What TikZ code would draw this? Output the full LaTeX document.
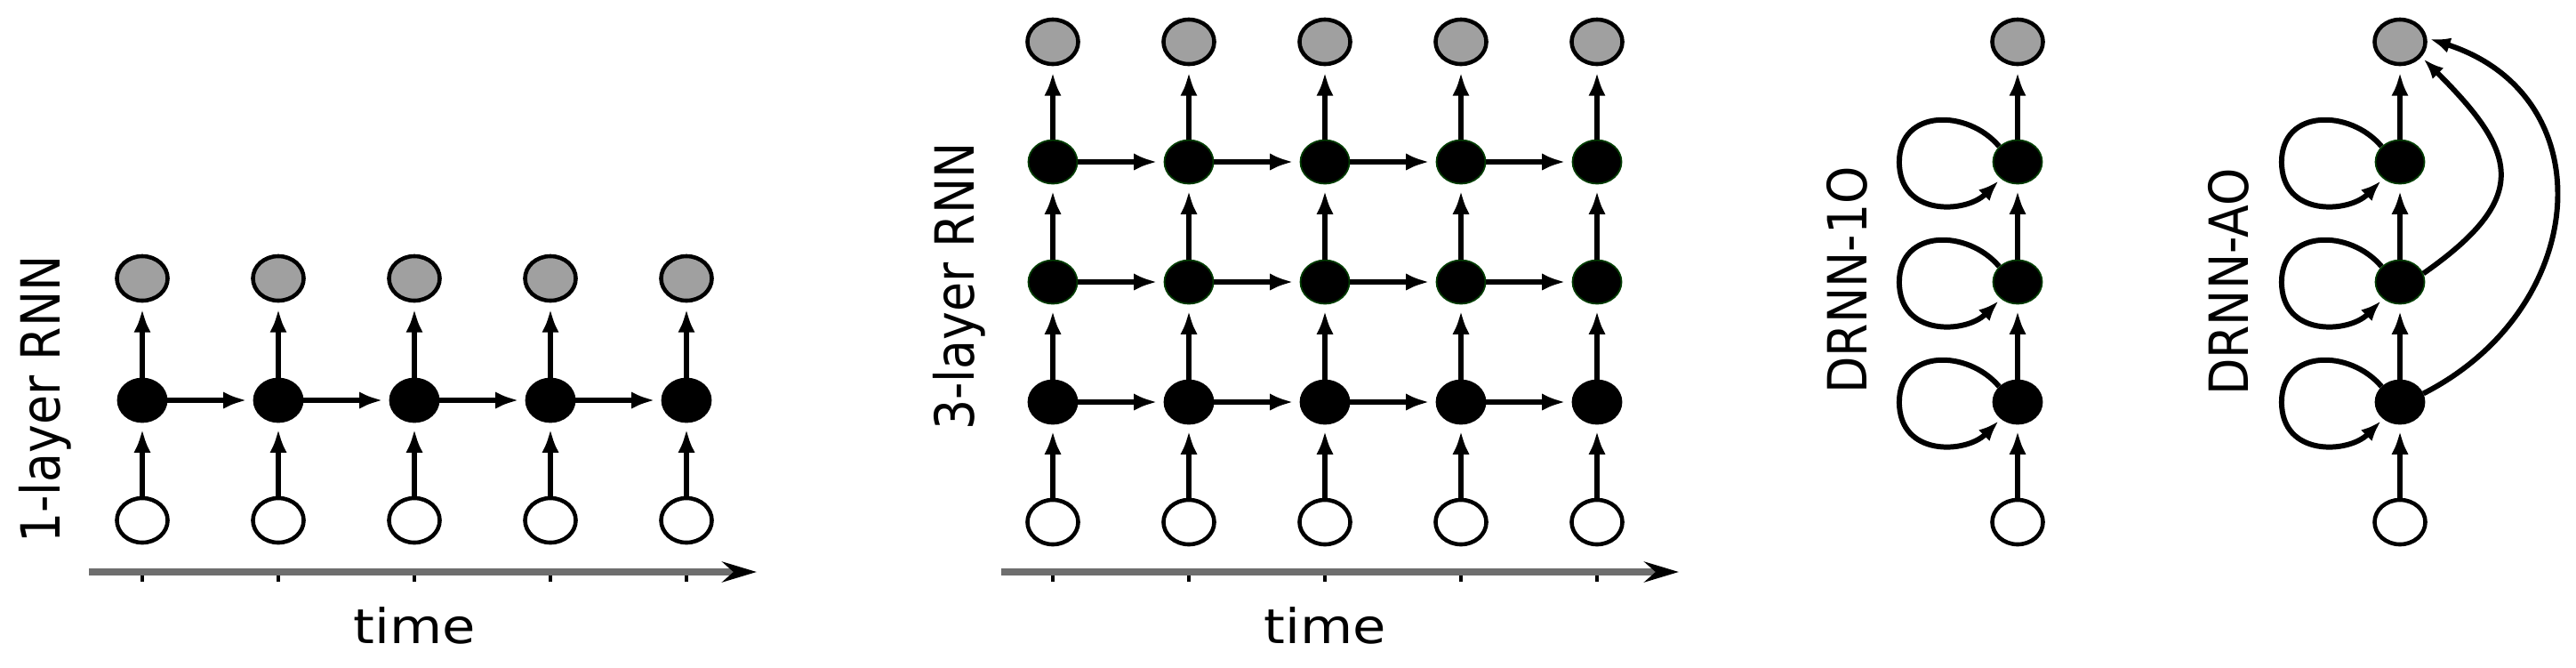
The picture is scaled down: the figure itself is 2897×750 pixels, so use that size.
\documentclass[tikz,border=0pt]{standalone}
\usepackage{graphicx}
\usepackage{fontspec}
\setmainfont{DejaVu Sans}
\usepackage{tikz}
\usetikzlibrary{arrows.meta,shapes.geometric}
\definecolor{outgray}{RGB}{160,160,160}
\definecolor{axisgray}{RGB}{110,110,110}
\definecolor{hidgreen}{RGB}{0,60,0}
\tikzset{
  innode/.style={ellipse, draw=black, fill=white, line width=1.3pt, minimum width=0.57cm, minimum height=0.50cm, inner sep=0pt},
  outnode/.style={innode, fill=outgray},
  hidnode/.style={ellipse, draw=black, fill=black, line width=0.5pt, minimum width=0.55cm, minimum height=0.49cm, inner sep=0pt},
  hidtop/.style={hidnode, draw=hidgreen},
  conn/.style={line width=1.9pt, -{Latex[length=7.5pt,width=5.5pt]}, shorten >=2pt},
  selfloop/.style={line width=1.7pt, -{Latex[length=6.5pt,width=5pt]}, shorten >=1pt},
  timeaxis/.style={axisgray, line width=2pt, -{Stealth[length=11pt,width=6.5pt,black]}},
  axistick/.style={black, line width=0.9pt},
  panellabel/.style={rotate=90, anchor=base, font=\fontsize{15.3}{18}\selectfont},
  timelabel/.style={anchor=base, font=\fontsize{15.3}{18}\selectfont}
}

\begin{document}
\begin{tikzpicture}[x=0.01cm, y=0.01cm]
  \useasboundingbox (0,0) rectangle (2897,750);

  % 1-layer RNN
  \foreach \i in {1,...,5} {
    \pgfmathsetmacro{\x}{160+153*(\i-1)}
    \node[innode] (sin\i) at (\x,165) {};
    \node[hidnode] (sh\i) at (\x,300) {};
    \node[outnode] (sout\i) at (\x,437) {};
    \draw[conn] (sin\i) -- (sh\i);
    \draw[conn] (sh\i) -- (sout\i);
    \draw[axistick] (\x,104) -- (\x,96);
  }
  \foreach \i [evaluate=\i as \j using int(\i+1)] in {1,...,4}
    \draw[conn] (sh\i) -- (sh\j);
  \coordinate (sstart) at (100,107);
  \coordinate (send) at (851,107);
  \draw[timeaxis] (sstart) -- (send);
  \node[panellabel] (slabel) at (68,301) {\scalebox{1}[1.13]{1-layer RNN}};
  \node[timelabel] (stime) at (466,27) {\scalebox{1.13}[1]{time}};

  % 3-layer RNN
  \foreach \i in {1,...,5} {
    \pgfmathsetmacro{\x}{1184+153*(\i-1)}
    \node[innode] (din\i) at (\x,163) {};
    \node[hidnode] (da\i) at (\x,298) {};
    \node[hidtop] (db\i) at (\x,433) {};
    \node[hidtop] (dc\i) at (\x,568) {};
    \node[outnode] (dout\i) at (\x,703) {};
    \draw[conn] (din\i) -- (da\i);
    \draw[conn] (da\i) -- (db\i);
    \draw[conn] (db\i) -- (dc\i);
    \draw[conn] (dc\i) -- (dout\i);
    \draw[axistick] (\x,104) -- (\x,96);
  }
  \foreach \i [evaluate=\i as \j using int(\i+1)] in {1,...,4} {
    \draw[conn] (da\i) -- (da\j);
    \draw[conn] (db\i) -- (db\j);
    \draw[conn] (dc\i) -- (dc\j);
  }
  \coordinate (dstart) at (1126,107);
  \coordinate (dend) at (1888,107);
  \draw[timeaxis] (dstart) -- (dend);
  \node[panellabel] (dlabel) at (1095,428) {\scalebox{1}[1.13]{3-layer RNN}};
  \node[timelabel] (dtime) at (1490,27) {\scalebox{1.13}[1]{time}};

  % DRNN-1O
  \node[innode] (oin) at (2269,163) {};
  \node[hidnode] (oa) at (2269,298) {};
  \node[hidtop] (ob) at (2269,433) {};
  \node[hidtop] (oc) at (2269,568) {};
  \node[outnode] (oout) at (2269,703) {};
  \draw[conn] (oin) -- (oa);
  \draw[conn] (oa) -- (ob);
  \draw[conn] (ob) -- (oc);
  \draw[conn] (oc) -- (oout);
  \foreach \n in {oa,ob,oc}
    \draw[selfloop] (\n.140) .. controls +(130:55) and +(90:60) .. ([xshift=-1.33cm]\n.center)
      .. controls +(270:62) and +(225:55) .. (\n.225);
  \node[panellabel] (olabel) at (2099,435) {\scalebox{1}[1.13]{DRNN-1O}};

  % DRNN-AO
  \node[innode] (ain) at (2699,163) {};
  \node[hidnode] (aa) at (2699,298) {};
  \node[hidtop] (ab) at (2699,433) {};
  \node[hidtop] (ac) at (2699,568) {};
  \node[outnode] (aout) at (2699,703) {};
  \draw[conn] (ain) -- (aa);
  \draw[conn] (aa) -- (ab);
  \draw[conn] (ab) -- (ac);
  \draw[conn] (ac) -- (aout);
  \foreach \n in {aa,ab,ac}
    \draw[selfloop] (\n.140) .. controls +(130:55) and +(90:60) .. ([xshift=-1.33cm]\n.center)
      .. controls +(270:62) and +(225:55) .. (\n.225);
  \draw[selfloop] (ab.20) .. controls +(35:151) and +(-45:151) .. (aout.-35);
  \draw[selfloop] (aa.20) .. controls +(27:211) and +(-18:211) .. (aout.8);
  \node[panellabel] (alabel) at (2528,433) {\scalebox{1}[1.13]{DRNN-AO}};
\end{tikzpicture}
\end{document}
